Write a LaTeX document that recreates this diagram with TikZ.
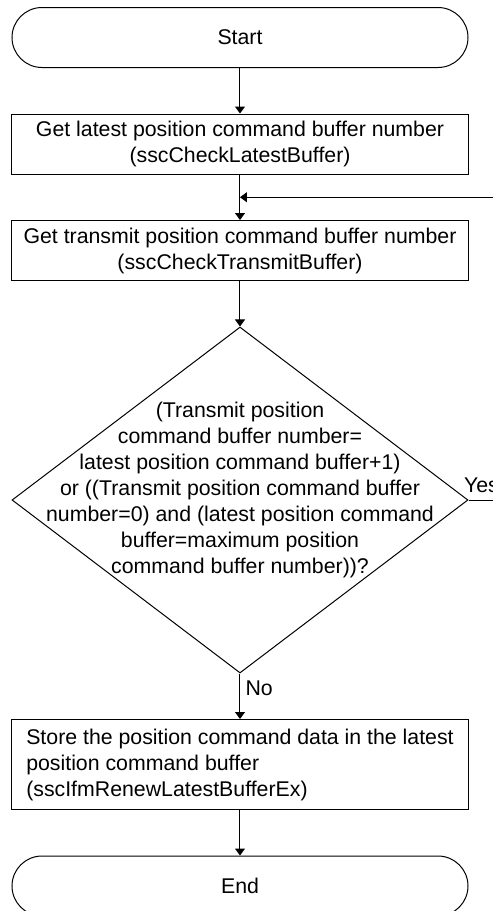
\documentclass[tikz,border=0pt]{standalone}
\usepackage{fontspec}
\setmainfont{Liberation Sans}
\usepackage{tikz}
\usetikzlibrary{arrows.meta, positioning, shapes.geometric}

\begin{document}
\begin{tikzpicture}[node distance=22.75pt, line width=0.5pt,
    every node/.style={font=\fontsize{10.65}{13}\selectfont},
    terminal/.style={draw, rectangle, rounded corners=15pt, minimum width=228pt, minimum height=30pt, align=center},
    process/.style={draw, rectangle, minimum width=228pt, minimum height=30pt, align=center},
    arrow/.style={-{Triangle[length=3.5pt, width=5pt]}}]

    \useasboundingbox (-120pt,18.75pt) rectangle (126.5pt,-436.75pt);

    % Start terminal
    \node[terminal] (start) {Start};

    % Latest buffer number
    \node[below=of start, process] (latest) {
        Get latest position command buffer number \\
        (sscCheckLatestBuffer)
    };

    \draw[arrow] (start) -- (latest);

    % Transmit buffer number
    \node[below=of latest, process] (transmit) {
        Get transmit position command buffer number \\
        (sscCheckTransmitBuffer)
    };

    \draw[arrow] (latest) -- (transmit);

    % Loop back in from the right
    \coordinate[below=11.375pt of latest] (loopjoin);
    \coordinate[right=132pt of loopjoin] (loopin);
    \draw[arrow] (loopin) -- (loopjoin);

    % Decision
    \node[below=of transmit, draw, diamond, minimum width=228pt, minimum height=173pt, inner sep=0pt] (check) {};
    \node[yshift=5pt, align=center] (checktext) at (check) {
        (Transmit position \\
        command buffer number= \\
        latest position command buffer+1) \\
        or ((Transmit position command buffer \\
        number=0) and (latest position command \\
        buffer=maximum position \\
        command buffer number))?
    };

    \draw[arrow] (transmit) -- (check);

    % Yes branch goes off to the right
    \coordinate[right=14pt of check.east] (yesend);
    \draw (check.east) -- node[pos=0, anchor=south west, xshift=-4.5pt, yshift=1.5pt, inner sep=2pt] (yeslabel) {Yes} (yesend);

    % Store the data
    \node[below=of check, draw, rectangle, minimum width=228pt, minimum height=45pt, align=left] (store) {
        Store the position command data in the latest \\
        position command buffer \\
        (sscIfmRenewLatestBufferEx)
    };

    \draw[arrow] (check) -- node[pos=0, anchor=north west, xshift=0.5pt, yshift=-1.5pt, inner sep=2pt] (nolabel) {No} (store);

    % End terminal
    \node[below=of store, terminal] (finish) {End};

    \draw[arrow] (store) -- (finish);

\end{tikzpicture}
\end{document}
